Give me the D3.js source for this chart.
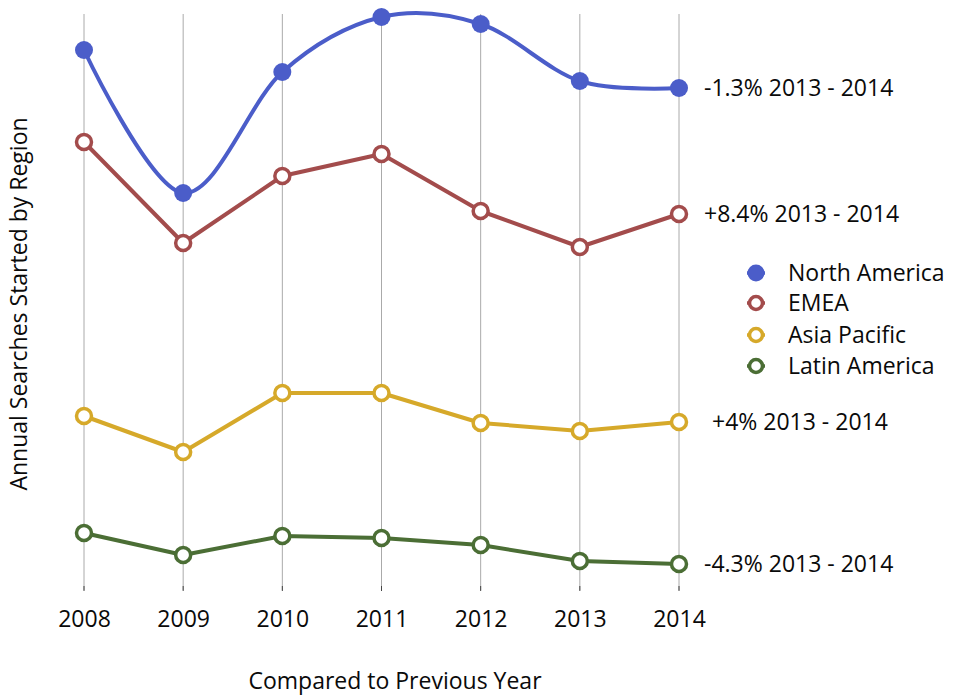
<!DOCTYPE html>
<html>
<head>
<meta charset="utf-8">
<script src="https://cdn.jsdelivr.net/npm/d3@7"></script>
<style>
  html, body { margin: 0; padding: 0; background: #fff; }
  svg { display: block; }
  text { font-family: "Open Sans", Lato, sans-serif; fill: #0a0a0a; }
</style>
</head>
<body>
<svg id="chart" width="953" height="695"></svg>
<script>
// Years along the x axis
const years = [2008, 2009, 2010, 2011, 2012, 2013, 2014];

// Annual search index per region (relative units)
const northAmerica = [540, 397, 518, 573, 566, 509, 502];
const emea         = [448, 347, 414, 436, 379, 343, 376];
const asiaPacific  = [174, 138, 197, 197, 167, 159, 168];
const latinAmerica = [57, 35, 54, 52, 45, 29, 26];

const seriesNames = ["North America", "EMEA", "Asia Pacific", "Latin America"];
const changeLabels = ["-1.3% 2013 - 2014", "+8.4% 2013 - 2014", "+4% 2013 - 2014", "-4.3% 2013 - 2014"];

const colors = ["#4b5dc9", "#a34c4c", "#d6a92a", "#4b6e35"];
const values = [northAmerica, emea, asiaPacific, latinAmerica];

const svg = d3.select("#chart");

const x = d3.scalePoint().domain(years).range([84, 679]);
const y = d3.scaleLinear().domain([0, 580]).range([590, 10]);

// Vertical grid lines at each year
const grid = svg.append("g");
grid.selectAll("line").data(years).join("line")
  .attr("x1", d => x(d)).attr("x2", d => x(d))
  .attr("y1", 14).attr("y2", 590)
  .attr("stroke", "#aaa").attr("stroke-width", 1);
// small dark tick at the foot of each grid line
grid.selectAll("line.tick").data(years).join("line")
  .attr("class", "tick")
  .attr("x1", d => x(d)).attr("x2", d => x(d))
  .attr("y1", 586).attr("y2", 591)
  .attr("stroke", "#444").attr("stroke-width", 1);

// X axis labels
const xAxis = d3.axisBottom(x).tickSize(0).tickPadding(0).tickFormat(d3.format("d"));
const xg = svg.append("g").attr("transform", "translate(0,618)").call(xAxis);
xg.select(".domain").remove();
xg.selectAll("text")
  .attr("font-size", 23)
  .attr("dy", "0.4em")
  .attr("y", 0)
  .style("font-family", "'Open Sans', Lato, sans-serif")
  .attr("fill", "#0a0a0a");

// Axis titles
svg.append("text")
  .attr("x", 395).attr("y", 689)
  .attr("text-anchor", "middle")
  .attr("font-size", 23)
  .text("Compared to Previous Year");

svg.append("text")
  .attr("transform", "translate(27,304) rotate(-90)")
  .attr("text-anchor", "middle")
  .attr("font-size", 23)
  .text("Annual Searches Started by Region");

// Lines
seriesNames.forEach((name, i) => {
  const pts = years.map((yr, j) => [x(yr), y(values[i][j])]);
  const line = d3.line().curve(i === 0 ? d3.curveCardinal.tension(0) : d3.curveLinear);
  svg.append("path")
    .attr("d", line(pts))
    .attr("fill", "none")
    .attr("stroke", colors[i])
    .attr("stroke-width", 4)
    .attr("stroke-linejoin", "round");

  svg.append("g").selectAll("circle").data(pts).join("circle")
    .attr("cx", d => d[0]).attr("cy", d => d[1])
    .attr("r", i === 0 ? 9 : 7.5)
    .attr("fill", i === 0 ? colors[i] : "#fff")
    .attr("stroke", colors[i])
    .attr("stroke-width", i === 0 ? 0 : 3.5);

  // change label beside the last point
  const last = pts[pts.length - 1];
  svg.append("text")
    .attr("x", last[0] + (i === 2 ? 33 : 25))
    .attr("y", last[1])
    .attr("dy", "0.35em")
    .attr("font-size", 23)
    .text(changeLabels[i]);
});

// Legend
const legend = svg.append("g");
const legendY = [273, 303, 335, 366];
seriesNames.forEach((name, i) => {
  const row = legend.append("g").attr("transform", `translate(756,${legendY[i]})`);
  row.append("line").attr("x1", -9).attr("x2", 9)
    .attr("stroke", colors[i]).attr("stroke-width", 3.5);
  row.append("circle").attr("r", i === 0 ? 8.5 : 6.5)
    .attr("fill", i === 0 ? colors[i] : "#fff")
    .attr("stroke", colors[i]).attr("stroke-width", i === 0 ? 0 : 3.5);
  row.append("text").attr("x", 32).attr("dy", "0.35em")
    .attr("font-size", 23).text(name);
});
</script>
</body>
</html>
